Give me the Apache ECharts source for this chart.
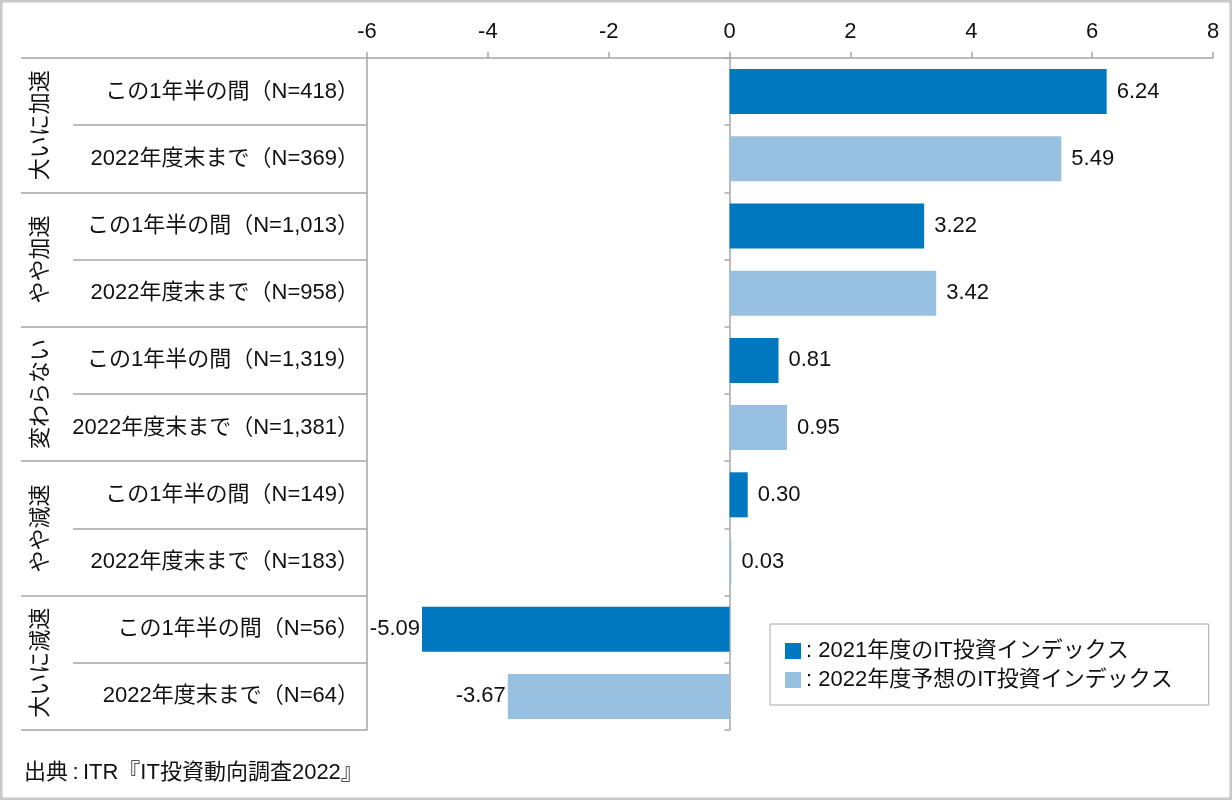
<!DOCTYPE html>
<html><head><meta charset="utf-8">
<script src="https://cdn.jsdelivr.net/npm/echarts@6/dist/echarts.min.js"></script>
<style>html,body{margin:0;padding:0;background:#fff}#c{width:1232px;height:800px}</style>
</head><body><div id="c"></div>
<script>
const groups = ['大いに加速', 'やや加速', '変わらない', 'やや減速', '大いに減速'];
const categories = [
  'この1年半の間（N=418）', '2022年度末まで（N=369）',
  'この1年半の間（N=1,013）', '2022年度末まで（N=958）',
  'この1年半の間（N=1,319）', '2022年度末まで（N=1,381）',
  'この1年半の間（N=149）', '2022年度末まで（N=183）',
  'この1年半の間（N=56）', '2022年度末まで（N=64）'
];
const seriesNames = ['2021年度のIT投資インデックス', '2022年度予想のIT投資インデックス'];
const values2021 = [6.24, '-', 3.22, '-', 0.81, '-', 0.30, '-', -5.09, '-'];
const values2022 = ['-', 5.49, '-', 3.42, '-', 0.95, '-', 0.03, '-', -3.67];
const xTicks = { min: -6, max: 8, interval: 2 };
const sourceText = '出典\u2009:\u2009ITR『IT投資動向調査2022』';

const FONT = '"Liberation Sans", Arial, "Noto Sans CJK JP", sans-serif';
const FS = 22;
const GRAY = '#a6a6a6';
const labelStyle = {
  show: true, fontSize: FS, color: '#111', fontFamily: FONT,
  formatter: p => Number(p.value).toFixed(2),
  position: 'right', distance: 10
};
function mkData(arr) {
  return arr.map(v => v === '-' ? '-' : (v < 0 ? { value: v, label: { position: 'left', distance: 2 } } : v));
}

const chart = echarts.init(document.getElementById('c'), null, { renderer: 'canvas' });
chart.setOption({
  animation: false,
  textStyle: { fontFamily: FONT },
  grid: { left: 367, right: 19, top: 58, bottom: 70, containLabel: false },
  graphic: [{
    type: 'rect', shape: { x: 1, y: 1, width: 1230, height: 798 },
    style: { fill: 'none', stroke: '#c8c8c8', lineWidth: 3 }, silent: true
  }],
  title: {
    text: sourceText, left: 19, top: 757,
    textStyle: { fontSize: FS, fontWeight: 'normal', color: '#111', fontFamily: FONT }
  },
  legend: {
    orient: 'vertical', left: 770, top: 624, itemWidth: 16, itemHeight: 16, itemGap: 7,
    padding: [16, 36, 14, 15],
    borderColor: GRAY, borderWidth: 1, backgroundColor: '#fff',
    icon: 'rect',
    formatter: n => ': ' + n,
    textStyle: { fontSize: FS, color: '#111', fontFamily: FONT },
    data: seriesNames
  },
  xAxis: {
    type: 'value', position: 'top', min: xTicks.min, max: xTicks.max, interval: xTicks.interval,
    axisLine: { show: true, lineStyle: { color: GRAY, width: 1.5 } },
    axisTick: { show: true, length: 6, lineStyle: { color: GRAY, width: 1.5 } },
    axisLabel: { fontSize: FS, color: '#111', margin: 15, fontFamily: FONT },
    splitLine: { show: false }
  },
  yAxis: [
    {
      type: 'category', inverse: true, data: categories, position: 'left',
      axisLine: { show: true, onZero: false, lineStyle: { color: GRAY, width: 1.5 } },
      axisTick: { show: true, length: 294, interval: 0, lineStyle: { color: GRAY, width: 1.5 } },
      axisLabel: { fontSize: FS, color: '#111', margin: 8, interval: 0, fontFamily: FONT }
    },
    {
      type: 'category', inverse: true, data: groups, position: 'left',
      axisLine: { show: false, onZero: false },
      axisTick: { show: true, length: 346, interval: 0, lineStyle: { color: GRAY, width: 1.5 } },
      axisLabel: { fontSize: FS, color: '#111', rotate: 90, margin: 315, interval: 0, hideOverlap: false, fontFamily: FONT }
    },
    {
      type: 'category', inverse: true, data: categories, position: 'left',
      axisLine: { show: true, onZero: true, lineStyle: { color: GRAY, width: 1.5 } },
      axisTick: { show: true, length: 5, interval: 0, lineStyle: { color: GRAY, width: 1.5 } },
      axisLabel: { show: false }
    }
  ],
  series: [
    {
      name: seriesNames[0], type: 'bar', barWidth: '67%', barGap: '-100%',
      itemStyle: { color: '#0078c0' }, label: labelStyle, data: mkData(values2021), z: 3
    },
    {
      name: seriesNames[1], type: 'bar', barWidth: '67%', barGap: '-100%',
      itemStyle: { color: '#98c0e0' }, label: labelStyle, data: mkData(values2022), z: 3
    }
  ]
});
</script></body></html>
